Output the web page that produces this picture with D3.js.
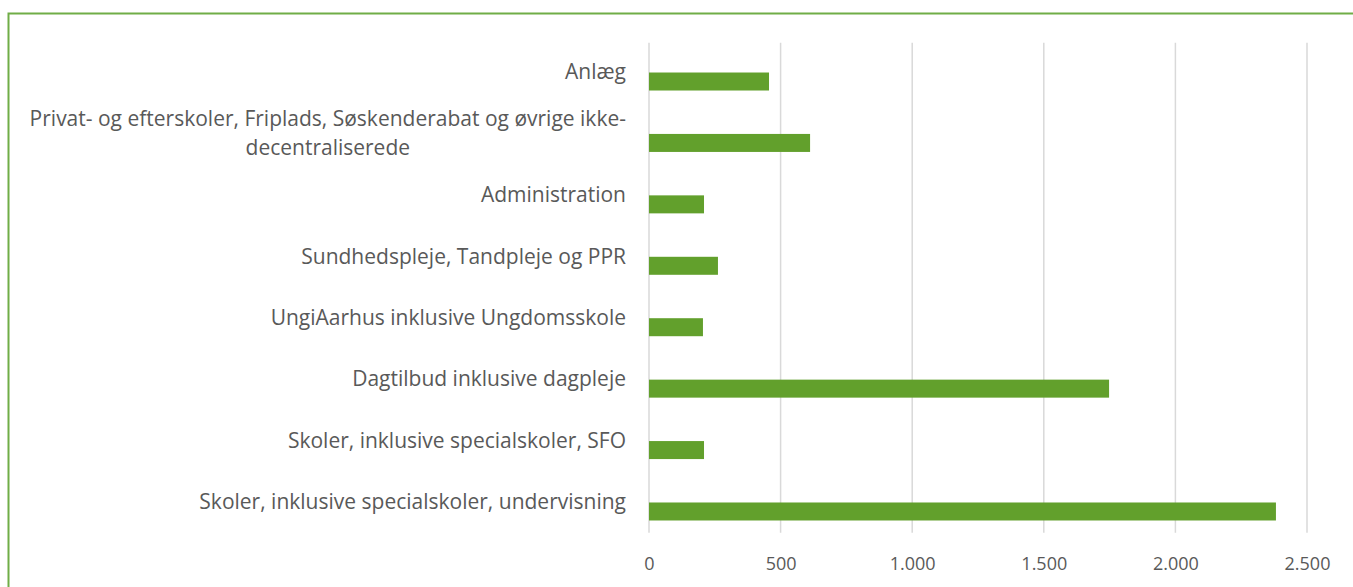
<!DOCTYPE html>
<html><head><meta charset="utf-8">
<script src="https://cdn.jsdelivr.net/npm/d3@7"></script>
<style>body{margin:0;background:#fff}svg{display:block}</style>
</head><body>
<svg id="c" width="1353" height="587"></svg>
<script>
const categories = [
  "Anlæg",
  "Privat- og efterskoler, Friplads, Søskenderabat og øvrige ikke-\ndecentraliserede",
  "Administration",
  "Sundhedspleje, Tandpleje og PPR",
  "UngiAarhus inklusive Ungdomsskole",
  "Dagtilbud inklusive dagpleje",
  "Skoler, inklusive specialskoler, SFO",
  "Skoler, inklusive specialskoler, undervisning"
];
const values = [456, 612, 209, 262, 205, 1748, 209, 2382];
const tickValues = [0, 500, 1000, 1500, 2000, 2500];

const svg = d3.select("#c");
const W = 1353, H = 587;
const FONT = "'Open Sans', sans-serif";
const TXT = "#595959";

// border
svg.append("rect").attr("x", 8.5).attr("y", 13.5).attr("width", W + 10).attr("height", H + 10)
  .attr("fill", "none").attr("stroke", "#70ad47").attr("stroke-width", 2);

const x = d3.scaleLinear().domain([0, 2500]).range([649, 1307]);
const y = d3.scaleBand().domain(categories).range([41.3, 532.7]);

const loc = d3.formatLocale({decimal: ",", thousands: ".", grouping: [3], currency: ["", " kr."]});
const fmt = loc.format(",d");

// gridlines
svg.append("g").selectAll("line").data(tickValues).join("line")
  .attr("x1", d => x(d)).attr("x2", d => x(d))
  .attr("y1", y.range()[0] + 1.5).attr("y2", y.range()[1])
  .attr("stroke", "#d9d9d9").attr("stroke-width", 1.5);

// x axis tick labels
const xAxis = d3.axisBottom(x).tickValues(tickValues).tickFormat(fmt).tickSize(0).tickPadding(0);
const gx = svg.append("g").attr("transform", `translate(0,${y.range()[1]})`).call(xAxis);
gx.select(".domain").remove();
gx.selectAll("text").attr("font-family", FONT).attr("font-size", 18).attr("fill", TXT)
  .attr("dy", null).attr("y", 37);

// bars (visible series sits in lower half of each band)
const bh = 18;
svg.append("g").selectAll("rect").data(values).join("rect")
  .attr("x", x(0))
  .attr("y", (d, i) => y(categories[i]) + y.bandwidth() / 2 + 0.5)
  .attr("width", d => x(d) - x(0))
  .attr("height", bh)
  .attr("fill", "#62a02c");

// category labels
const lab = svg.append("g").selectAll("text").data(categories).join("text")
  .attr("font-family", FONT).attr("font-size", 21).attr("fill", TXT)
  .attr("text-anchor", "end");
lab.each(function(d) {
  const t = d3.select(this);
  const lines = d.split("\n");
  const cy = y(d) + y.bandwidth() / 2;
  const lh = 29;
  const y0 = cy - (lines.length - 1) * lh / 2;
  if (lines.length === 1) {
    t.attr("x", 626).attr("y", cy).attr("dy", "0.35em").text(d);
  } else {
    const tmp = [];
    lines.forEach((ln, k) => {
      tmp.push(t.append("tspan").attr("y", y0 + k * lh).attr("dy", "0.35em").text(ln));
    });
    const widths = tmp.map(s => s.node().getComputedTextLength());
    const maxW = Math.max(...widths);
    const cx = 626 - maxW / 2;
    t.attr("text-anchor", "middle");
    tmp.forEach(s => s.attr("x", cx));
  }
});
</script>
</body></html>
